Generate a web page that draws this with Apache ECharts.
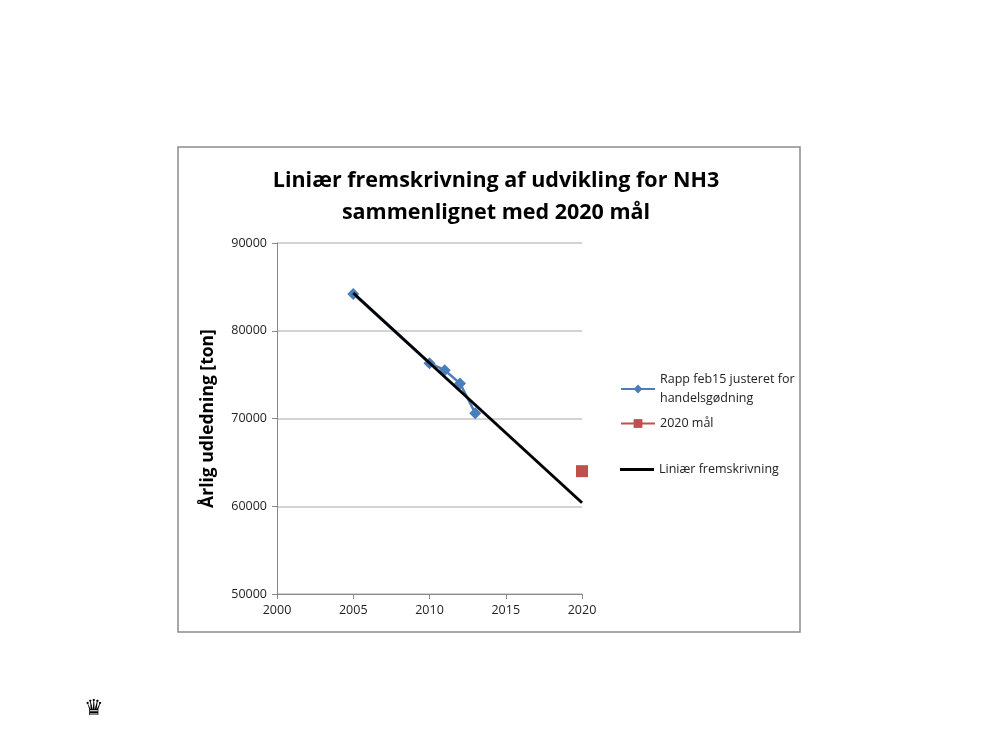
<!DOCTYPE html>
<html>
<head>
<meta charset="utf-8">
<script src="https://cdn.jsdelivr.net/npm/echarts@6/dist/echarts.min.js"></script>
<style>html,body{margin:0;padding:0;background:#fff}#c{width:1000px;height:750px}</style>
</head>
<body>
<div id="c"></div>
<script>
const titleText = 'Liniær fremskrivning af udvikling for NH3\nsammenlignet med 2020 mål';
const yAxisName = 'Årlig udledning [ton]';
const seriesNames = ['Rapp feb15 justeret for\nhandelsgødning', '2020 mål', 'Liniær fremskrivning'];
const rappYears = [2005, 2010, 2011, 2012, 2013];
const rappValues = [84200, 76300, 75500, 74000, 70600];
const goalYears = [2020];
const goalValues = [64000];
const trendYears = [2005, 2020];
const trendValues = [84300, 60400];

const font = 'Open Sans, Noto Sans, sans-serif';
const chart = echarts.init(document.getElementById('c'), null, {renderer: 'canvas'});
const zip = (a, b) => a.map((v, i) => [v, b[i]]);

chart.setOption({
  backgroundColor: '#fff',
  animation: false,
  title: {
    text: titleText,
    left: 491, top: 160, textAlign: 'center',
    textStyle: {fontFamily: font, fontSize: 21.5, fontWeight: 'bold', color: '#000', lineHeight: 32}
  },
  graphic: [
    {type: 'rect', shape: {x: 178, y: 147, width: 622, height: 485},
     style: {fill: 'none', stroke: '#8c8c8c', lineWidth: 1.5}, z: -1},
    {type: 'text', left: 84, top: 698,
     style: {text: '♛', font: '22px DejaVu Sans', fill: '#000'}}
  ],
  legend: [
    {data: [seriesNames[0]], orient: 'vertical', left: 615, top: 365, itemWidth: 34, itemHeight: 11,
     textStyle: {fontFamily: font, fontSize: 12.5, color: '#222', lineHeight: 19}},
    {data: [seriesNames[1]], orient: 'vertical', left: 615, top: 412, itemWidth: 34, itemHeight: 11,
     textStyle: {fontFamily: font, fontSize: 12.5, color: '#222'}},
    {data: [{name: seriesNames[2], icon: 'rect'}], orient: 'vertical', left: 615, top: 458, itemWidth: 34, itemHeight: 3,
     textStyle: {fontFamily: font, fontSize: 12.5, color: '#222'}}
  ],
  grid: {left: 277, right: 418, top: 243, bottom: 156, containLabel: false},
  xAxis: {
    type: 'value', min: 2000, max: 2020, interval: 5,
    axisLine: {show: true, lineStyle: {color: '#888', width: 1}},
    axisTick: {show: true, length: 5, lineStyle: {color: '#888'}},
    axisLabel: {fontFamily: font, fontSize: 12.5, color: '#222', margin: 10, formatter: v => String(v)},
    splitLine: {show: false}
  },
  yAxis: {
    type: 'value', min: 50000, max: 90000, interval: 10000,
    name: yAxisName, nameLocation: 'middle', nameGap: 60, nameRotate: 90,
    nameTextStyle: {fontFamily: font, fontSize: 17.5, fontWeight: 'bold', color: '#000'},
    axisLine: {show: true, lineStyle: {color: '#888', width: 1}},
    axisTick: {show: true, length: 5, lineStyle: {color: '#888'}},
    axisLabel: {fontFamily: font, fontSize: 12.5, color: '#222', margin: 10, formatter: v => String(v)},
    splitLine: {show: true, lineStyle: {color: '#c4c4c4', width: 1.5}}
  },
  series: [
    {name: seriesNames[0], type: 'line', data: zip(rappYears, rappValues),
     symbol: 'diamond', symbolSize: 12, showSymbol: true,
     itemStyle: {color: '#4a7ebb'}, lineStyle: {color: '#4a7ebb', width: 2.5}, z: 2},
    {name: seriesNames[1], type: 'line', data: zip(goalYears, goalValues),
     symbol: 'rect', symbolSize: 12,
     itemStyle: {color: '#c0504d'}, lineStyle: {color: '#c0504d', width: 2.5}, z: 3},
    {name: seriesNames[2], type: 'line', data: zip(trendYears, trendValues),
     symbol: 'none', showSymbol: false,
     itemStyle: {color: '#000'}, lineStyle: {color: '#000', width: 3}, z: 4}
  ]
});
</script>
</body>
</html>
